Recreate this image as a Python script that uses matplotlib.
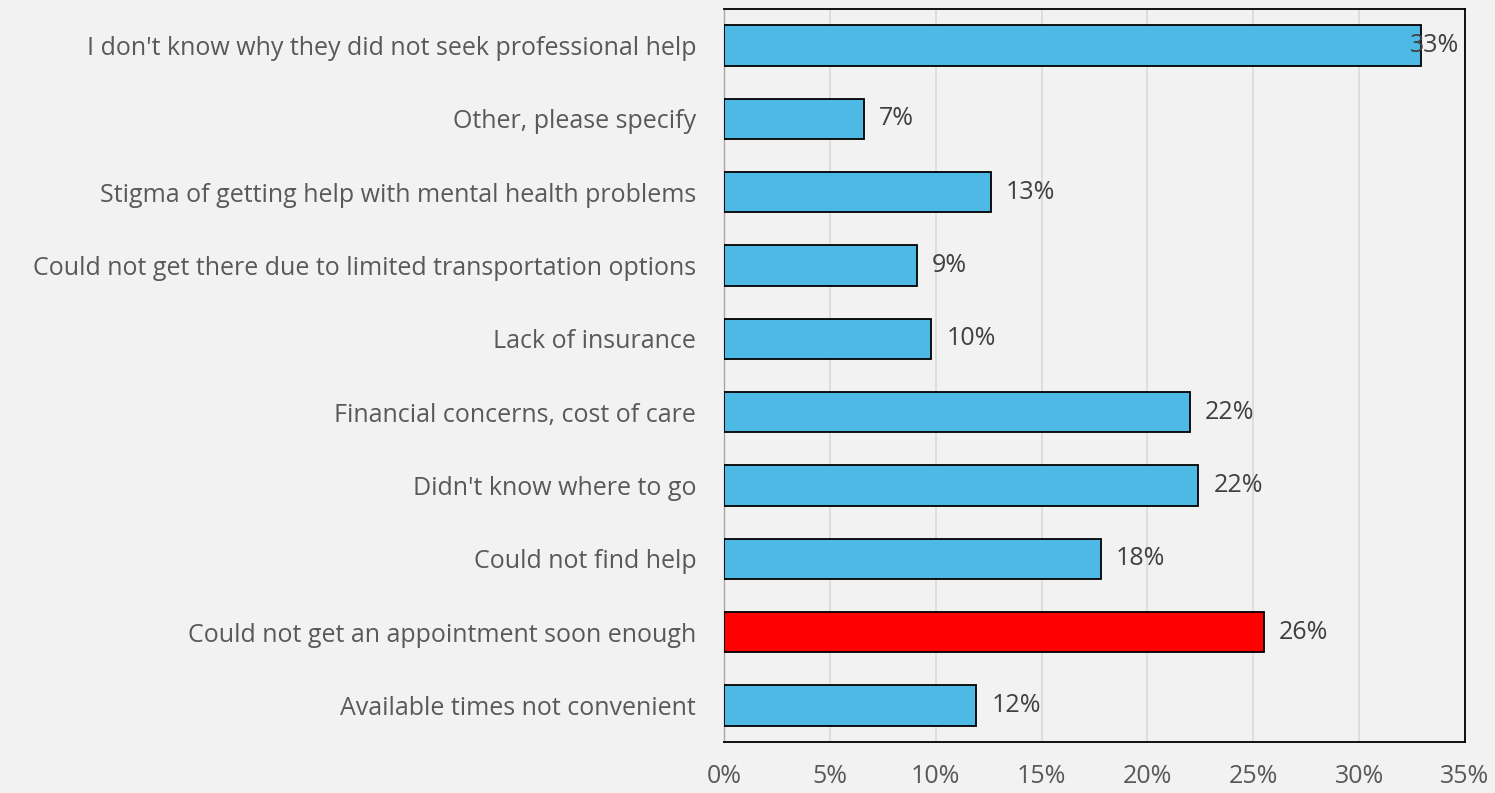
import matplotlib
matplotlib.use("Agg")
import matplotlib.pyplot as plt
from matplotlib.ticker import FuncFormatter

categories = [
    "Available times not convenient",
    "Could not get an appointment soon enough",
    "Could not find help",
    "Didn't know where to go",
    "Financial concerns, cost of care",
    "Lack of insurance",
    "Could not get there due to limited transportation options",
    "Stigma of getting help with mental health problems",
    "Other, please specify",
    "I don't know why they did not seek professional help",
]
values = [11.9, 25.5, 17.8, 22.4, 22.0, 9.8, 9.1, 12.6, 6.6, 32.9]
labels = ["12%", "26%", "18%", "22%", "22%", "10%", "9%", "13%", "7%", "33%"]
highlight = "Could not get an appointment soon enough"
xticks = [0, 5, 10, 15, 20, 25, 30, 35]

plt.rcParams['font.family'] = ['Open Sans', 'DejaVu Sans']
bg = "#F2F2F2"
fs = 18
fig = plt.figure(figsize=(14.95, 7.93), dpi=100, facecolor=bg)
ax = fig.add_axes([724/1495, 51/793, (1465-724)/1495, (742-9)/793])
ax.set_facecolor(bg)

colors = ["#FF0000" if c == highlight else "#4FB9E6" for c in categories]
ypos = list(range(len(categories)))
ax.barh(ypos, values, height=0.55, color=colors, edgecolor="black", linewidth=1.3, zorder=3)

ax.set_xlim(0, 35)
ax.set_ylim(-0.5, len(categories) - 0.5)
ax.set_xticks(xticks)
ax.xaxis.set_major_formatter(FuncFormatter(lambda v, p: f"{v:.0f}%"))
ax.set_yticks(ypos)
ax.set_yticklabels(categories)
ax.tick_params(axis='y', length=0, pad=20, labelsize=fs, labelcolor="#595959")
ax.tick_params(axis='x', length=0, pad=16, labelsize=fs, labelcolor="#595959")
ax.grid(axis='x', color="#D9D9D9", linewidth=1.2, zorder=0)

for s in ["top", "right", "bottom"]:
    ax.spines[s].set_color("black")
    ax.spines[s].set_linewidth(1.3)
ax.spines["left"].set_color("#A6A6A6")
ax.spines["left"].set_linewidth(1.0)

for y, v, lab in zip(ypos, values, labels):
    if v > 31:
        ax.annotate(lab, xy=(35, y), xytext=(-4, 0), textcoords="offset points",
                    ha="right", va="center", fontsize=fs, color="#404040", zorder=4)
    else:
        ax.annotate(lab, xy=(v, y), xytext=(11, 0), textcoords="offset points",
                    ha="left", va="center", fontsize=fs, color="#404040", zorder=4)

fig.savefig("out.png", dpi=100, facecolor=bg)
